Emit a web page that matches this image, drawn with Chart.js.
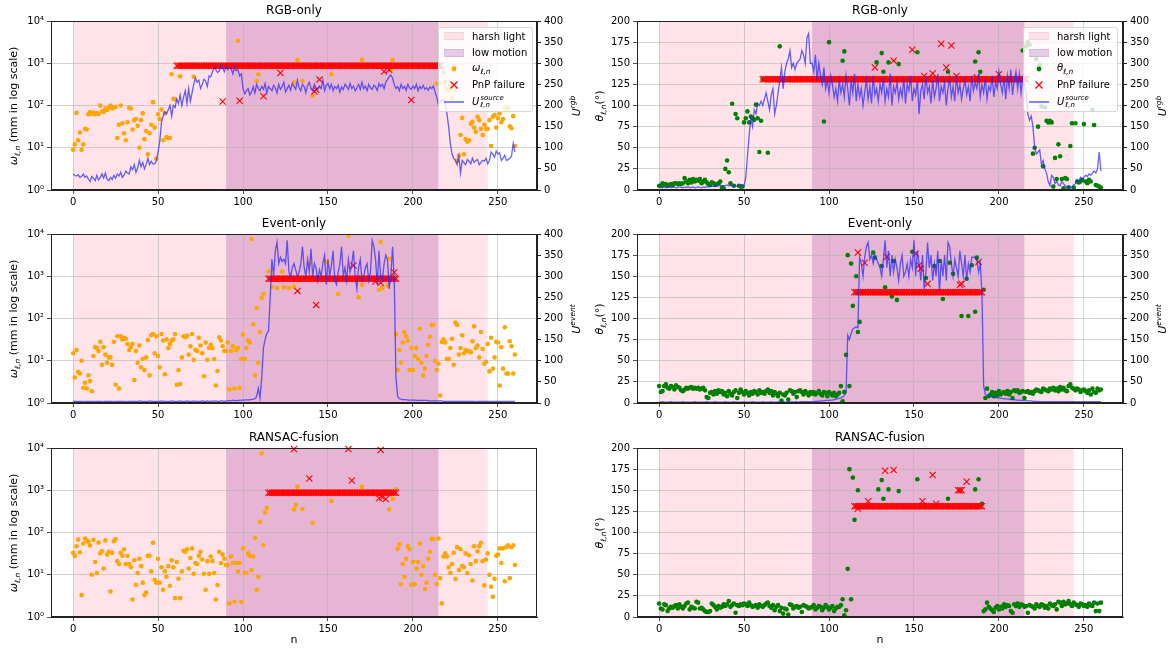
<!DOCTYPE html>
<html>
<head>
<meta charset="utf-8">
<script src="https://cdn.jsdelivr.net/npm/chart.js@4.4.1/dist/chart.umd.min.js"></script>
<style>
  body { margin: 0; background: #fff; }
  #fig { position: relative; width: 1170px; height: 653px; overflow: hidden; font-family: 'DejaVu Sans', sans-serif; color: #000; }
  canvas { position: absolute; }
  .ttl { position: absolute; font-size: 12px; text-align: center; white-space: nowrap; width: 300px; line-height: 14px; }
  .yl { position: absolute; font-size: 11px; white-space: nowrap; text-align: center; width: 240px; height: 16px; line-height: 16px; transform: rotate(-90deg); }
  .xl { position: absolute; font-size: 11px; width: 40px; text-align: center; }
  sub { font-size: 7.5px; vertical-align: -3px; }
  sup { font-size: 7.5px; vertical-align: 5px; }
  .ss { display: inline-flex; flex-direction: column; font-size: 7px; line-height: 7px; vertical-align: middle; margin-left: 1px; }
  .leg { position: absolute; background: rgba(255,255,255,0.8); border: 1px solid #d6d6d6; border-radius: 3px; font-size: 10px; }
  .lrow { position: absolute; left: 0; height: 16px; display: flex; align-items: center; white-space: nowrap; }
  .lrow svg { margin-left: 5px; margin-right: 8px; }
</style>
</head>
<body>
<div id="fig"></div>
<script>
const _ = null;

// shaded frame ranges
const harshLight = [0, 244];
const lowMotion = [90, 215];

const xTicks = [0, 50, 100, 150, 200, 250];
const logTicks = [1, 10, 100, 1000, 10000];
const pnpFailOmega = 870;
const pnpFailTheta = 131;

// ---- RGB-only ----
const rgbOmega = [
  9, 12, 67, 15, 23, 9, 12, 28, 27, 62,
  70, 63, 67, 62, 66, 63, 100, 73, 70, 85,
  78, 90, 100, 85, 90, 92, 17, 35, 100, 38,
  22, 15, 40, 88, 85, 27, 45, 48, 33, 10,
  45, 65, 16, 25, 7, 22, 35, 120, 30, 5.5,
  62, 48, 80, 15, 65, 18, 17, 17, 550, 145,
  140, _, _, 490, _, _, _, _, _, _,
  _, 480, _, _, _, _, _, _, _, _,
  _, _, _, _, _, _, _, _, _, _,
  _, _, _, _, _, _, _, 3400, _, _,
  _, _, _, _, _, _, _, _, 380, 550,
  _, _, _, _, _, _, _, _, _, _,
  _, _, _, _, _, _, _, _, _, _,
  350, _, 1200, _, _, 380, _, _, _, _,
  _, 170, _, _, _, _, _, _, _, _,
  _, _, 550, _, _, _, _, _, _, _,
  _, _, _, _, _, _, _, _, _, _,
  1200, _, _, _, _, _, _, _, _, _,
  _, _, _, _, _, _, _, 700, 1200, _,
  _, _, _, _, _, _, _, _, _, _,
  _, _, _, _, _, _, _, _, _, _,
  _, _, _, _, 330, _, 340, _, 600, 370,
  250, 230, 300, 150, 850, 230, 5, 6.5, 20, 51,
  7, 16, 14, 15, 37, 41, 30, 24, 54, 45,
  28, 20, 35, 28, 28, 45, 11, 54, 60, 30,
  50, 65, 40, 48, 85, 85, 85, 32, 29, 56,
  11,
];
const rgbTheta = [
  5, 5, 8, 6, 7, 5, 6, 7, 6, 8,
  8, 7, 8, 7, 8, 14, 10, 8, 12, 9,
  13, 10, 12, 11, 13, 8, 10, 12, 9, 7,
  6, 9, 8, 6, 7, 8, 10, 3, 2, 25,
  35, 21, 8, 102, 5, 90, 85, 5, 4, 4,
  80, 85, 93, 80, 87, 85, 83, 101, 85, 45,
  82, 131, _, _, 44, _, _, _, _, _,
  _, 170, _, _, _, _, _, _, _, _,
  _, _, _, _, _, _, _, _, _, _,
  _, _, _, _, _, _, _, 81, _, _,
  175, _, _, _, _, _, _, _, 153, 164,
  _, _, _, _, _, _, _, _, _, _,
  _, _, _, _, _, _, _, _, 151, _,
  _, 162, 140, _, _, 151, _, _, _, _,
  _, 149, _, _, _, _, _, _, _, _,
  _, _, 163, _, _, _, _, _, _, _,
  _, _, _, _, _, _, _, _, _, _,
  140, _, _, _, _, _, _, _, _, _,
  _, _, _, _, _, _, 152, _, 163, 140,
  _, _, _, _, _, _, _, _, _, _,
  _, _, _, _, _, _, _, _, _, _,
  _, _, _, _, 165, _, 170, 175, 172, 160,
  43, 50, 155, 75, 148, 99, 28, 98, 82, 80,
  82, 80, 4, 38, 13, 54, 40, 13, 2, 14,
  13, 3, 52, 79, 3, 79, 10, 9, 10, 12,
  78, 10, 8, 12, 10, 95, 77, 6, 5, 4,
  3,
];
const uRgbOmega = [
  38, 35, 33, 36, 30, 32, 38, 30, 33, 26,
  20, 32, 28, 22, 35, 24, 30, 38, 28, 40,
  25, 22, 30, 25, 35, 28, 38, 33, 42, 30,
  35, 45, 40, 38, 55, 48, 60, 42, 52, 70,
  55, 65, 50, 60, 75, 60, 68, 62, 62, 70,
  90, 115, 160, 175, 185, 180, 190, 200, 175, 200,
  195, 215, 205, 225, 200, 220, 235, 205, 240, 210,
  230, 250, 265, 255, 260, 240, 250, 262, 258, 245,
  270, 268, 280, 290, 285, 278, 282, 295, 288, 280,
  292, 285, 290, 288, 275, 290, 282, 285, 270, 275,
  240, 228, 235, 240, 225, 232, 245, 230, 250, 240,
  235, 245, 238, 252, 230, 245, 240, 235, 248, 242,
  230, 250, 238, 245, 255, 232, 240, 248, 236, 252,
  245, 238, 260, 242, 235, 250, 245, 230, 248, 255,
  240, 235, 250, 242, 238, 246, 240, 260, 235, 248,
  252, 240, 250, 235, 245, 240, 248, 232, 244, 238,
  250, 245, 238, 252, 240, 246, 235, 242, 250, 238,
  255, 240, 246, 235, 250, 242, 238, 248, 244, 236,
  252, 245, 250, 240, 255, 262, 268, 272, 265, 250,
  240, 245, 235, 250, 240, 245, 236, 250, 242, 238,
  246, 240, 250, 235, 245, 240, 248, 238, 242, 236,
  244, 240, 246, 232, 220, 200, 210, 212, 215, 205,
  180, 150, 110, 85, 75, 70, 60, 80, 40, 70,
  65, 60, 72, 68, 62, 75, 65, 70, 72, 60,
  65, 70, 68, 75, 62, 70, 90, 85, 78, 92,
  85, 88, 70, 75, 82, 70, 72, 75, 80, 110,
  90,
];
const uRgbTheta = [
  8, 6, 5, 7, 5, 6, 8, 5, 6, 7,
  5, 6, 8, 6, 5, 7, 6, 8, 5, 6,
  7, 5, 6, 8, 6, 5, 7, 6, 8, 7,
  8, 9, 8, 10, 9, 10, 12, 9, 11, 10,
  12, 10, 11, 9, 12, 10, 9, 11, 10, 12,
  10, 30, 80, 130, 170, 150, 190, 180, 205, 200,
  210, 200, 215, 230, 210, 190, 225, 240, 180, 200,
  230, 260, 290, 240, 280, 300, 310, 330, 290, 300,
  285, 300, 305, 310, 330, 320, 300, 360, 370, 300,
  300, 280, 320, 260, 300, 270, 250, 290, 240, 260,
  230, 270, 250, 220, 240, 210, 260, 230, 250, 220,
  270, 240, 200, 260, 230, 275, 210, 250, 220, 240,
  200, 230, 260, 215, 245, 205, 270, 225, 240, 210,
  250, 230, 265, 210, 240, 220, 275, 200, 245, 230,
  255, 215, 240, 220, 265, 205, 250, 235, 270, 210,
  240, 225, 260, 180, 235, 250, 215, 270, 230, 245,
  205, 260, 220, 240, 275, 210, 245, 230, 255, 200,
  240, 265, 220, 245, 210, 270, 230, 250, 215, 240,
  260, 225, 245, 210, 270, 235, 255, 240, 275, 220,
  250, 230, 265, 215, 245, 235, 270, 220, 255, 240,
  280, 250, 230, 265, 215, 270, 240, 285, 225, 260,
  280, 240, 275, 230, 265, 250, 230, 180, 165, 175,
  150, 100, 85, 90, 95, 60, 70, 50, 40, 20,
  10, 35, 30, 15, 20, 12, 10, 20, 15, 10,
  5, 10, 8, 5, 12, 15, 25, 20, 30, 25,
  30, 35, 32, 38, 35, 40, 45, 40, 50, 90,
  45,
];
const rgbFailFrames = [
  61, 62, 63, 64, 65, 66, 67, 68, 69, 70,
  71, 72, 73, 74, 75, 76, 77, 78, 79, 80,
  81, 82, 83, 84, 85, 86, 87, 88, 89, 90,
  91, 92, 93, 94, 95, 96, 97, 98, 99, 100,
  101, 102, 103, 104, 105, 106, 107, 108, 109, 110,
  111, 112, 113, 114, 115, 116, 117, 118, 119, 120,
  121, 122, 123, 124, 125, 126, 127, 128, 129, 130,
  131, 132, 133, 134, 135, 136, 137, 138, 139, 140,
  141, 142, 143, 144, 145, 146, 147, 148, 149, 150,
  151, 152, 153, 154, 155, 156, 157, 158, 159, 160,
  161, 162, 163, 164, 165, 166, 167, 168, 169, 170,
  171, 172, 173, 174, 175, 176, 177, 178, 179, 180,
  181, 182, 183, 184, 185, 186, 187, 188, 189, 190,
  191, 192, 193, 194, 195, 196, 197, 198, 199, 200,
  201, 202, 203, 204, 205, 206, 207, 208, 209, 210,
  211, 212, 213, 214, 215, 216,
];
const rgbOmegaFailOut = [[88, 125], [98, 130], [112, 165], [122, 590], [142, 215], [143, 235], [145, 410], [183, 640], [186, 700], [199, 135]];
const rgbThetaFailOut = [[127, 145], [138, 153], [149, 166], [156, 135], [161, 138], [166, 173], [169, 145], [172, 171], [175, 135], [187, 133], [200, 137]];

// ---- Event-only ----
const eventOmega = [
  15, 4, 18, 5.5, 5, 10, 2.3, 3, 2.2, 4.5,
  3.3, 1.9, 13, 21, 20, 17, 28, 8, 21, 14,
  9, 12, 12, 8, 28, 2.7, 38, 2.2, 38, 32,
  35, 33, 25, 18, 21, 25, 3.5, 17, 9, 23,
  7, 11, 6, 12, 31, 4.5, 40, 43, 15, 38,
  13, 7, 43, 30, 4.8, 32, 20, 25, 30, 32,
  43, 2.7, 6, 2.8, 12, 38, 36, 39, 14, 22,
  43, 10.5, 18, 17, 35, 23, 15, 4.3, 27, 10.5,
  20, 24, 20, 11, 2.6, 5.7, 36, 30, 22, 17,
  17, 27, 2.1, 17, 22, 2.2, 18, 20, 2.3, 11,
  42, 11, 20, 30, 27, 7500, 73, 4.5, 180, 9,
  48, 310, 380, _, _, 1300, _, 560, _, _,
  530, _, _, 1300, 550, _, _, 530, _, _,
  570, _, _, _, _, _, _, _, _, 2000,
  _, _, _, _, _, _, _, _, _, 2200,
  _, _, _, _, _, _, 380, _, _, _,
  _, _, 9100, _, _, _, _, _, 320, _,
  620, _, _, _, _, _, _, _, _, _,
  480, 6500, 530, _, _, 600, 2600, _, 1000, _,
  42, 6, 18, 9, 27, 48, 38, 30, 6, 20,
  6, 13, 20, 11, 57, 9, 4.5, 6.5, 13, 24,
  37, 70, 70, 10, 6, 8.5, 1.5, 28, 32, 27,
  11, 11, 20, 33, 8, 80, 70, 14, 20, 40,
  15, 18, 17, 17, 16, 29, 65, 20, 23, 12,
  48, 19, 8.5, 9.5, 25, 5.6, 35, 6.5, 12, 28,
  27, 2.6, 21, 6.5, 62, 5, 5, 29, 22, 5,
  14,
];
const eventTheta = [
  20, 13, 14, 20, 22, 18, 17, 20, 19, 16,
  21, 19, 18, 15, 14, 16, 18, 17, 18, 19,
  17, 18, 17, 18, 16, 17, 18, 15, 7, 6,
  12, 13, 10, 14, 11, 15, 13, 14, 10, 12,
  8, 14, 11, 9, 13, 15, 6, 12, 16, 13,
  10, 14, 12, 9, 13, 11, 14, 13, 10, 15,
  12, 13, 11, 14, 16, 12, 14, 9, 13, 11,
  8, 12, 3, 10, 9, 12, 4, 15, 14, 11,
  13, 7, 14, 15, 13, 10, 14, 12, 9, 13,
  11, 13, 10, 12, 14, 11, 9, 13, 12, 8,
  13, 11, 9, 12, 8, 10, 12, 20, 2, 13,
  57, 175, 20, 165, 115, _, 150, 84, 96, _,
  _, _, _, _, _, _, 178, 172, _, _,
  _, 162, _, 137, _, _, _, 126, 168, _,
  122, _, _, _, _, _, _, _, _, 179,
  _, _, _, _, _, _, _, 148, _, _,
  _, _, 162, _, _, 168, _, 123, _, _,
  _, 166, _, 153, _, _, _, _, 103, _,
  _, 147, 103, _, 163, _, 108, 172, _, _,
  _, 134, 6, 17, 8, 10, 13, 8, 12, 9,
  14, 10, 12, 13, 11, 14, 10, 13, 6, 15,
  14, 15, 12, 13, 14, 6, 13, 14, 12, 13,
  11, 14, 16, 15, 14, 13, 17, 16, 15, 14,
  17, 16, 18, 15, 17, 14, 19, 16, 18, 15,
  14, 20, 22, 18, 17, 15, 17, 16, 13, 15,
  16, 14, 12, 15, 10, 17, 13, 12, 17, 15,
  16,
];
const uEventOmega = [
  4, 4, 4, 3, 4, 4, 4, 3, 4, 4,
  4, 4, 3, 4, 4, 4, 4, 4, 3, 4,
  4, 4, 4, 4, 3, 4, 4, 4, 4, 4,
  4, 3, 4, 4, 4, 4, 4, 4, 4, 5,
  4, 4, 4, 4, 4, 5, 4, 4, 4, 4,
  4, 4, 5, 4, 4, 4, 4, 4, 5, 4,
  4, 4, 4, 5, 4, 4, 4, 5, 4, 4,
  4, 5, 4, 4, 4, 4, 5, 4, 4, 5,
  4, 4, 5, 4, 5, 4, 4, 5, 5, 4,
  5, 5, 6, 5, 6, 6, 5, 6, 6, 7,
  7, 7, 8, 7, 8, 8, 9, 10, 15, 35,
  12, 60, 130, 150, 165, 170, 250, 340, 300, 360,
  380, 330, 345, 335, 340, 330, 385, 310, 300, 320,
  330, 315, 300, 310, 330, 370, 320, 300, 340, 310,
  365, 300, 330, 320, 290, 315, 300, 330, 350, 280,
  340, 300, 325, 360, 290, 280, 310, 330, 370, 300,
  320, 290, 340, 310, 330, 360, 300, 270, 320, 340,
  290, 300, 320, 330, 290, 310, 385, 370, 340, 280,
  360, 300, 290, 330, 350, 340, 270, 300, 370, 290,
  60, 15, 10, 9, 8, 8, 8, 7, 7, 7,
  7, 7, 6, 6, 6, 6, 6, 6, 6, 5,
  5, 5, 5, 5, 5, 5, 5, 5, 4, 4,
  4, 4, 4, 4, 4, 4, 4, 4, 4, 4,
  4, 4, 4, 4, 4, 4, 4, 3, 4, 4,
  4, 4, 4, 4, 4, 4, 4, 4, 4, 4,
  4, 4, 4, 4, 4, 4, 4, 4, 4, 4,
  4,
];
const uEventTheta = [
  2, 2, 3, 2, 2, 2, 2, 3, 2, 2,
  2, 2, 2, 2, 3, 2, 2, 2, 2, 2,
  2, 3, 2, 2, 2, 2, 2, 2, 3, 2,
  2, 2, 2, 3, 2, 2, 2, 2, 2, 3,
  2, 2, 2, 2, 3, 2, 2, 2, 2, 2,
  3, 2, 2, 2, 2, 3, 2, 2, 2, 2,
  2, 3, 2, 2, 2, 2, 3, 2, 2, 2,
  3, 2, 2, 3, 2, 2, 3, 2, 3, 2,
  3, 3, 2, 3, 3, 3, 3, 3, 3, 3,
  3, 3, 4, 4, 4, 5, 5, 5, 6, 6,
  6, 7, 7, 8, 9, 10, 11, 12, 14, 18,
  25, 160, 150, 165, 175, 178, 180, 178, 345, 330,
  300, 345, 370, 380, 340, 350, 330, 350, 340, 330,
  320, 300, 340, 385, 320, 360, 300, 350, 310, 340,
  320, 290, 330, 350, 300, 310, 330, 300, 340, 320,
  385, 300, 360, 330, 290, 350, 270, 310, 380, 320,
  350, 290, 330, 300, 360, 260, 340, 300, 350, 290,
  380, 370, 330, 300, 340, 320, 300, 360, 330, 300,
  350, 290, 330, 310, 345, 345, 345, 340, 310, 330,
  260, 40, 20, 18, 17, 15, 15, 14, 13, 12,
  12, 11, 11, 10, 10, 9, 9, 8, 8, 8,
  7, 7, 7, 6, 6, 6, 5, 5, 5, 5,
  4, 4, 4, 4, 3, 3, 3, 3, 3, 3,
  3, 3, 3, 3, 3, 3, 3, 3, 3, 3,
  3, 3, 3, 3, 3, 3, 3, 3, 3, 3,
  3, 3, 3, 3, 3, 3, 3, 3, 3, 3,
  3,
];
const eventFailFrames = [
  115, 116, 117, 118, 119, 120, 121, 122, 123, 124,
  125, 126, 127, 128, 129, 130, 131, 132, 133, 134,
  135, 136, 137, 138, 139, 140, 141, 142, 143, 144,
  145, 146, 147, 148, 149, 150, 151, 152, 153, 154,
  155, 156, 157, 158, 159, 160, 161, 162, 163, 164,
  165, 166, 167, 168, 169, 170, 171, 172, 173, 174,
  175, 176, 177, 178, 179, 180, 181, 182, 183, 184,
  185, 186, 187, 188, 189, 190,
];
const eventOmegaFailOut = [[132, 450], [143, 210], [165, 1800], [178, 750], [181, 700], [189, 1250]];
const eventThetaFailOut = [[117, 178], [121, 166], [134, 173], [151, 177], [153, 163], [154, 159], [158, 141], [177, 140], [178, 141], [188, 167]];

// ---- RANSAC-fusion ----
const ransacOmega = [
  33, 28, 47, 68, 34, 3.3, 55, 72, 65, 60,
  49, 10, 67, 20, 11, 58, 32, 36, 14, 65,
  30, 35, 4, 33, 62, 70, 21, 18, 33, 28,
  40, 18, 28, 18, 15, 2.6, 22, 5.8, 11, 24,
  16, 6.5, 3.3, 3.8, 28, 28, 12, 57, 7.5, 6.5,
  24, 6.5, 15, 4.4, 12, 9, 16, 5.5, 22, 15,
  2.8, 20, 8, 2.8, 12, 37, 35, 40, 14, 25,
  42, 10.5, 19, 18, 28, 35, 23, 10.5, 4.4, 21,
  10.5, 27, 21, 11, 2.6, 5.7, 35, 19, 30, 24,
  17, 17, 2.1, 27, 19, 2.3, 19, 12, 19, 2.3,
  42, 11, 11, 32, 28, 13, 27, 75, 4.4, 9,
  180, 7500, 50, 300, 380, _, _, _, _, _,
  _, _, _, _, _, _, _, _, _, _,
  350, 450, 1200, _, _, 360, _, _, _, _,
  _, 170, _, _, _, _, _, _, _, _,
  _, _, 560, _, _, _, _, _, _, _,
  _, _, _, _, _, _, _, _, _, _,
  1200, _, _, _, _, _, _, _, _, _,
  _, _, _, _, _, _, 350, _, 620, _,
  1050, 41, 53, 6, 18, 9, 24, 48, 40, 5.8,
  20, 6, 14, 20, 55, 10, 16, 4.6, 6.5, 24,
  35, 70, 70, 10, 6, 72, 8.3, 2.1, 27, 32,
  27, 15, 11, 18, 33, 8, 45, 13, 40, 16,
  15, 32, 11, 29, 18, 7.3, 47, 21, 36, 47,
  57, 21, 5.6, 23, 32, 10, 5.2, 3, 8, 28,
  30, 42, 19, 42, 7, 45, 50, 8.3, 45, 50,
  17,
];
const ransacTheta = [
  16, 10, 9, 15, 14, 7, 10, 12, 11, 13,
  14, 10, 15, 12, 10, 13, 16, 17, 9, 12,
  11, 10, 18, 17, 10, 11, 9, 7, 6, 6,
  7, 16, 14, 12, 9, 13, 11, 12, 15, 13,
  15, 19, 12, 14, 16, 5, 14, 13, 15, 14,
  16, 15, 13, 17, 14, 12, 13, 14, 11, 15,
  13, 12, 14, 16, 17, 13, 11, 14, 8, 12,
  14, 7, 11, 4, 10, 9, 3, 15, 14, 10,
  12, 13, 11, 12, 6, 14, 13, 12, 10, 11,
  12, 14, 9, 11, 13, 12, 8, 11, 14, 12,
  9, 11, 13, 7, 10, 12, 12, 14, 21, 2,
  8, 57, 175, 21, 165, 115, _, 150, _, _,
  _, _, _, _, _, _, _, _, _, 151,
  _, 162, 140, _, _, 151, _, _, _, _,
  _, 149, _, _, _, _, _, _, _, _,
  _, _, 163, _, _, _, _, _, _, _,
  _, _, _, _, _, _, _, _, _, _,
  140, _, _, _, _, _, _, _, _, _,
  _, _, _, _, _, _, 151, _, 163, _,
  134, 7, 9, 17, 12, 10, 8, 6, 11, 13,
  9, 12, 10, 15, 12, 14, 13, 7, 5, 15,
  13, 16, 12, 15, 14, 12, 13, 5, 14, 13,
  12, 10, 15, 13, 12, 15, 14, 11, 13, 10,
  16, 14, 13, 15, 9, 18, 17, 13, 18, 15,
  16, 19, 15, 13, 17, 15, 14, 12, 16, 15,
  13, 14, 12, 16, 14, 13, 17, 7, 16, 7,
  17,
];
const ransacFailFrames = [
  115, 116, 117, 118, 119, 120, 121, 122, 123, 124,
  125, 126, 127, 128, 129, 130, 131, 132, 133, 134,
  135, 136, 137, 138, 139, 140, 141, 142, 143, 144,
  145, 146, 147, 148, 149, 150, 151, 152, 153, 154,
  155, 156, 157, 158, 159, 160, 161, 162, 163, 164,
  165, 166, 167, 168, 169, 170, 171, 172, 173, 174,
  175, 176, 177, 178, 179, 180, 181, 182, 183, 184,
  185, 186, 187, 188, 189, 190,
];
const ransacOmegaFailOut = [[130, 9500], [139, 1900], [162, 9500], [164, 1700], [180, 650], [181, 9000], [182, 680], [184, 620]];
const ransacThetaFailOut = [[117, 128], [123, 137], [133, 173], [138, 174], [155, 137], [161, 168], [163, 134], [176, 150], [177, 150], [178, 150], [181, 160]];

// ---------------- layout ----------------
const fig = document.getElementById('fig');
const colX = [0, 586], colW = [586, 584], plotR = [537, 1123];
const rowY = [0, 213, 427], rowH = [213, 214, 226];
const PAD_TOP = 21, PLOT_H = 169, AXIS_W = 51;
const SUP = ['⁰', '¹', '²', '³', '⁴'];

const OMEGA = '<i>ω</i><sub><i>ℓ,n</i></sub>';
const THETA = '<i>θ</i><sub><i>ℓ,n</i></sub>';
const USRC = '<i>U</i><span class="ss"><i>source</i><i>ℓ,n</i></span>';

const panels = [
  { row: 0, col: 0, title: 'RGB-only', log: true, dots: rgbOmega, color: '#ffa500', fail: rgbFailFrames, failVal: pnpFailOmega, out: rgbOmegaFailOut, u: uRgbOmega, uName: 'rgb', legend: OMEGA },
  { row: 0, col: 1, title: 'RGB-only', log: false, dots: rgbTheta, color: '#008000', fail: rgbFailFrames, failVal: pnpFailTheta, out: rgbThetaFailOut, u: uRgbTheta, uName: 'rgb', legend: THETA },
  { row: 1, col: 0, title: 'Event-only', log: true, dots: eventOmega, color: '#ffa500', fail: eventFailFrames, failVal: pnpFailOmega, out: eventOmegaFailOut, u: uEventOmega, uName: 'event' },
  { row: 1, col: 1, title: 'Event-only', log: false, dots: eventTheta, color: '#008000', fail: eventFailFrames, failVal: pnpFailTheta, out: eventThetaFailOut, u: uEventTheta, uName: 'event' },
  { row: 2, col: 0, title: 'RANSAC-fusion', log: true, dots: ransacOmega, color: '#ffa500', fail: ransacFailFrames, failVal: pnpFailOmega, out: ransacOmegaFailOut, u: null },
  { row: 2, col: 1, title: 'RANSAC-fusion', log: false, dots: ransacTheta, color: '#008000', fail: ransacFailFrames, failVal: pnpFailTheta, out: ransacThetaFailOut, u: null },
];

const frame = {
  id: 'frame',
  beforeDraw(chart) {
    const { ctx, chartArea: a, scales: { x } } = chart;
    ctx.save();
    ctx.beginPath();
    ctx.rect(a.left, a.top, a.width, a.height);
    ctx.clip();
    const h0 = x.getPixelForValue(harshLight[0]), h1 = x.getPixelForValue(harshLight[1]);
    ctx.fillStyle = 'rgba(255,192,203,0.45)';
    ctx.fillRect(h0, a.top, h1 - h0, a.height);
    const m0 = x.getPixelForValue(lowMotion[0]), m1 = x.getPixelForValue(lowMotion[1]);
    ctx.fillStyle = 'rgba(128,0,128,0.2)';
    ctx.fillRect(m0, a.top, m1 - m0, a.height);
    ctx.restore();
  },
  afterDraw(chart) {
    const { ctx, chartArea: a } = chart;
    ctx.save();
    ctx.strokeStyle = '#222';
    ctx.lineWidth = 1;
    ctx.strokeRect(Math.round(a.left) + 0.5, Math.round(a.top) + 0.5, Math.round(a.width) - 1, Math.round(a.height) - 1);
    ctx.restore();
  },
};

const tickFont = { family: 'DejaVu Sans', size: 10 };
const gridStyle = { color: 'rgba(176,176,176,0.7)', lineWidth: 0.8, tickColor: '#222', tickLength: 4 };

function addText(cls, html, left, top, extra) {
  const d = document.createElement('div');
  d.className = cls;
  d.innerHTML = html;
  d.style.left = left + 'px';
  d.style.top = top + 'px';
  if (extra) Object.assign(d.style, extra);
  fig.appendChild(d);
  return d;
}

function legendBox(left, label) {
  const box = addText('leg', '', left, 27, { width: '93px', height: '83px' });
  const rows = [
    ['<rect x="0" y="1.5" width="20" height="7" fill="rgb(255,226,231)" stroke="rgb(252,208,216)"/>', 'harsh light', 0],
    ['<rect x="0" y="1.5" width="20" height="7" fill="rgb(229,203,229)" stroke="rgb(215,185,215)"/>', 'low motion', 16.5],
    [null, label, 33],
    ['<path d="M6.5 1.5 L13.5 8.5 M13.5 1.5 L6.5 8.5" stroke="#f00" stroke-width="1.3"/>', 'PnP failure', 48.5],
    ['<line x1="0" y1="5" x2="20" y2="5" stroke="rgba(40,40,255,0.75)" stroke-width="1.5"/>', USRC, 64],
  ];
  rows.forEach(([svg, text, y], i) => {
    const col = label === OMEGA ? '#ffa500' : '#008000';
    const g = svg || `<circle cx="10" cy="5" r="2.4" fill="${col}"/>`;
    const r = document.createElement('div');
    r.className = 'lrow';
    r.style.top = y + 'px';
    if (i === 4) r.style.height = '19px';
    r.innerHTML = `<svg width="20" height="10">${g}</svg><span>${text}</span>`;
    box.appendChild(r);
  });
}

panels.forEach(p => {
  const cv = document.createElement('canvas');
  const W = colW[p.col], H = rowH[p.row];
  cv.width = W; cv.height = H;
  cv.style.left = colX[p.col] + 'px';
  cv.style.top = rowY[p.row] + 'px';
  fig.appendChild(cv);

  const rightW = W - (plotR[p.col] - colX[p.col]);
  const dots = p.dots.map((v, i) => (v == null ? null : { x: i, y: v })).filter(Boolean);
  const fails = p.fail.map(n => ({ x: n, y: p.failVal })).concat(p.out.map(([n, v]) => ({ x: n, y: v })));

  const datasets = [];
  if (p.u) {
    datasets.push({
      type: 'line', data: p.u.map((v, i) => ({ x: i, y: v })), yAxisID: 'yR',
      borderColor: 'rgba(40,40,255,0.72)', borderWidth: 1.3, pointRadius: 0, tension: 0, order: 0,
    });
  }
  datasets.push({
    data: fails, yAxisID: 'y', pointStyle: 'crossRot', pointRadius: 4.4, borderColor: '#ff0000',
    backgroundColor: '#ff0000', borderWidth: 1.1, clip: 6, order: 1,
  });
  datasets.push({
    data: dots, yAxisID: 'y', pointRadius: 2.3, backgroundColor: p.color, borderWidth: 0, clip: 6, order: 2,
  });

  const yScale = p.log
    ? {
        type: 'logarithmic', min: 1, max: 10000, position: 'left',
        afterBuildTicks: s => { s.ticks = logTicks.map(v => ({ value: v })); },
        ticks: { font: tickFont, color: '#000', padding: 3, autoSkip: false, callback: v => '10' + SUP[Math.round(Math.log10(v))] },
      }
    : {
        type: 'linear', min: 0, max: 200, position: 'left',
        ticks: { font: tickFont, color: '#000', padding: 3, stepSize: 25 },
      };
  yScale.grid = gridStyle;
  yScale.border = { color: '#222', width: 1 };
  yScale.afterFit = s => { s.width = AXIS_W; };

  const scales = {
    x: {
      type: 'linear', min: -13, max: 273,
      afterBuildTicks: s => { s.ticks = xTicks.map(v => ({ value: v })); },
      ticks: { font: tickFont, color: '#000', padding: 2, autoSkip: false, maxRotation: 0 },
      grid: gridStyle, border: { color: '#222', width: 1 },
      afterFit: s => { s.height = H - PAD_TOP - PLOT_H; },
    },
    y: yScale,
  };
  if (p.u) {
    scales.yR = {
      type: 'linear', position: 'right', min: 0, max: 400,
      ticks: { font: tickFont, color: '#000', padding: 3, stepSize: 50 },
      grid: { drawOnChartArea: false, tickColor: '#222', tickLength: 4 },
      border: { color: '#222', width: 1 },
      afterFit: s => { s.width = rightW; },
    };
  }

  new Chart(cv, {
    type: 'scatter',
    data: { datasets },
    options: {
      responsive: false, animation: false, devicePixelRatio: 1,
      layout: { padding: { top: PAD_TOP, left: 0, bottom: 0, right: p.u ? 0 : rightW } },
      plugins: { legend: { display: false }, tooltip: { enabled: false } },
      scales,
    },
    plugins: [frame],
  });

  // texts
  const plotL = colX[p.col] + AXIS_W, plotRt = plotR[p.col];
  const cx = (plotL + plotRt) / 2;
  const top = rowY[p.row] + PAD_TOP, cy = top + PLOT_H / 2;
  addText('ttl', p.title, cx - 150, top - 18);
  const yLabel = p.log ? OMEGA + ' (mm in log scale)' : THETA + '(°)';
  addText('yl', yLabel, colX[p.col] + 14 - 120, cy - 8);
  if (p.u) addText('yl', '<i>U</i><sup><i>' + p.uName + '</i></sup>', plotRt + 36 - 120, cy - 8);
  if (p.row === 2) addText('xl', 'n', cx - 20, 633);
  if (p.legend) legendBox(p.col === 0 ? 438 : 1023, p.legend);
});
</script>
</body>
</html>
